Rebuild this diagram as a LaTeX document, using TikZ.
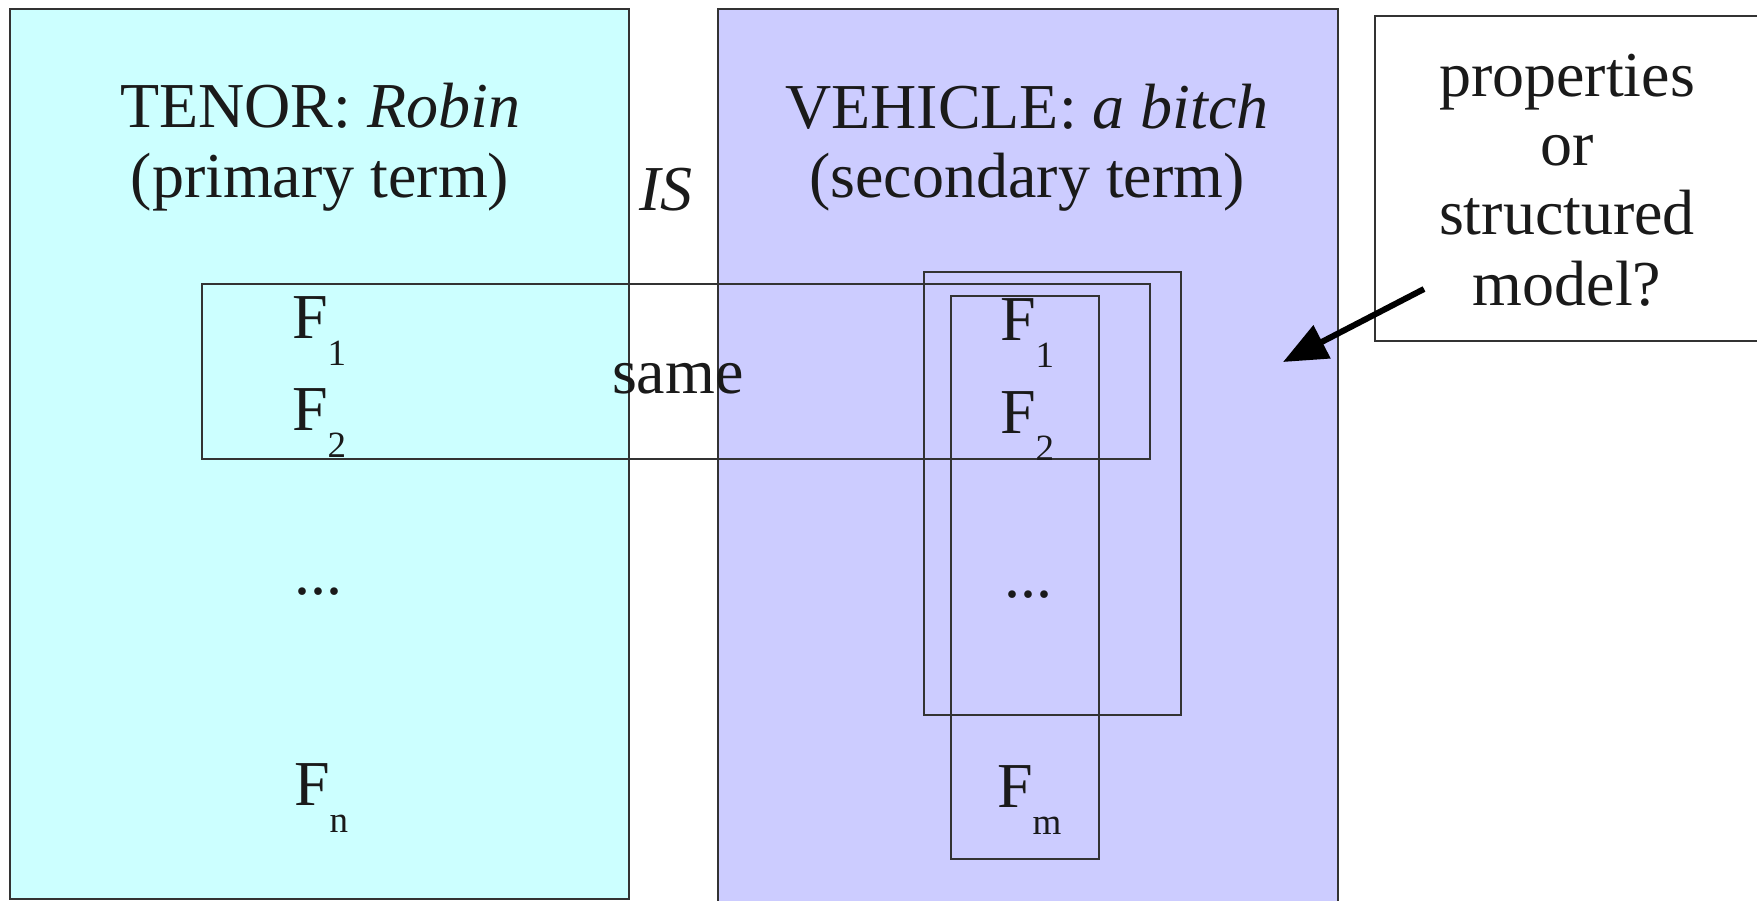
\documentclass[tikz,border=0pt]{standalone}
\usepackage{fontspec}
\setmainfont{Liberation Serif}
\usetikzlibrary{arrows.meta}
\definecolor{tenorfill}{HTML}{CCFFFF}
\definecolor{vehiclefill}{HTML}{CCCCFF}
\definecolor{edgecol}{HTML}{333333}
\definecolor{inkcol}{HTML}{1A1A1A}
\newcommand\fsub[1]{\raisebox{-27pt}{\fontsize{37}{37}\selectfont #1}}
\begin{document}
\begin{tikzpicture}[x=1pt,y=-1pt,
  big/.style={inner sep=0pt,outer sep=0pt,font=\fontsize{64}{70}\selectfont,text=inkcol},
  bl/.style={big,anchor=base},
  blw/.style={big,anchor=base west},
  frame/.style={draw=edgecol,line width=1.1pt},
]
\useasboundingbox (0,0) rectangle (1757,900);
\fill[white] (0,0) rectangle (1757,900);
% column boxes
\draw[frame,fill=tenorfill] (10,9) rectangle (629,899);
\draw[frame,fill=vehiclefill] (718,9) rectangle (1338,915);
% grouping boxes
\draw[frame] (202,284) rectangle (1150,459);
\draw[frame] (924,272) rectangle (1181,715);
\draw[frame] (951,296) rectangle (1099,859);
% headings
\node[bl] (tenor1) at (320,127) {TENOR: \textit{Robin}};
\node[bl] (tenor2) at (320,197) {(primary term)};
\node[bl] (is) at (666,210) {\textit{IS}};
\node[bl] (veh1) at (1027,128) {VEHICLE: \textit{a bitch}};
\node[bl] (veh2) at (1027,197) {(secondary term)};
\node[blw] (same) at (612,393) {same};
% features, tenor
\node[blw] (tf1) at (292,338) {F\fsub{1}};
\node[blw] (tf2) at (292,430) {F\fsub{2}};
\node[blw] (tdots) at (294,594) {...};
\node[blw] (tfn) at (294,805) {F\fsub{n}};
% features, vehicle
\node[blw] (vf1) at (1000,340) {F\fsub{1}};
\node[blw] (vf2) at (1000,433) {F\fsub{2}};
\node[blw] (vdots) at (1004,597) {...};
\node[blw] (vfm) at (997,807) {F\fsub{m}};
% question box
\draw[frame] (1770,16) -- (1375,16) -- (1375,341) -- (1770,341);
\node[bl] (q1) at (1567,96) {properties};
\node[bl] (q2) at (1567,165) {or};
\node[bl] (q3) at (1567,234) {structured};
\node[bl] (q4) at (1567,305) {model?};
\coordinate (atail) at (1424,289);
\coordinate (atip) at (1283,362);
\draw[line width=6pt,draw=black,-{Triangle[length=44pt,width=36pt]}] (atail) -- (atip);
\end{tikzpicture}
\end{document}
